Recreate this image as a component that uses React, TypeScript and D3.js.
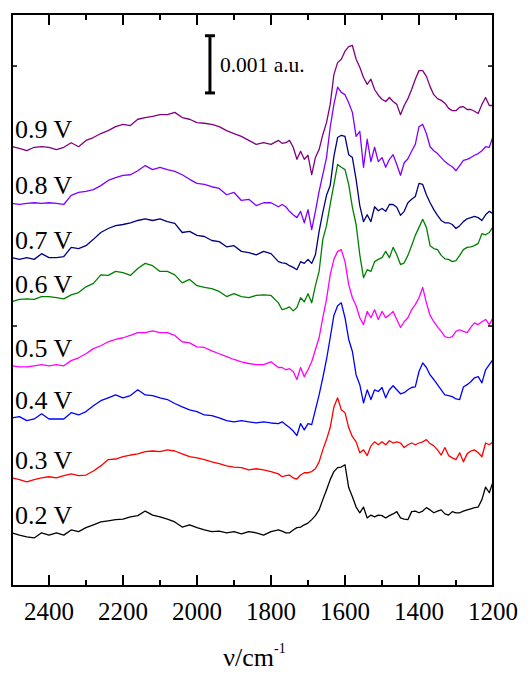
import React from "react";
import * as d3 from "d3";

// wavenumber grid (cm-1): 20 cm-1 steps down to 1780, then 10 cm-1 steps
const wavenumbers = [
  2500, 2480, 2460, 2440, 2420, 2400, 2380, 2360, 2340, 2320, 2300, 2280, 2260, 2240, 2220, 2200,
  2180, 2160, 2140, 2120, 2100, 2080, 2060, 2040, 2020, 2000, 1980, 1960, 1940, 1920, 1900, 1880,
  1860, 1840, 1820, 1800, 1780,
  1770, 1760, 1750, 1740, 1730, 1720, 1710, 1700, 1690, 1680, 1670, 1660, 1650, 1640, 1630, 1620,
  1610, 1600, 1590, 1580, 1570, 1560, 1550, 1540, 1530, 1520, 1510, 1500, 1490, 1480, 1470, 1460,
  1450, 1440, 1430, 1420, 1410, 1400, 1390, 1380, 1370, 1360, 1350, 1340, 1330, 1320, 1310, 1300,
  1290, 1280, 1270, 1260, 1250, 1240, 1230, 1220, 1210, 1200,
];

// absorbance in units of 0.001 a.u. (curves already stacked)
const s02 = [
  0.93, 0.89, 0.86, 0.84, 0.93, 0.89, 0.93, 0.89, 0.98, 0.95, 1.02, 1.07, 1.12, 1.14, 1.16, 1.17,
  1.21, 1.23, 1.31, 1.24, 1.21, 1.17, 1.12, 1.03, 1.07, 1.02, 0.98, 0.95, 0.96, 0.93, 0.95, 0.91,
  0.95, 0.93, 0.89, 0.95, 0.98,
  0.96, 0.93, 0.93, 0.98, 1.02, 1.03, 1.07, 1.10, 1.16, 1.23, 1.33, 1.51, 1.68, 1.86, 2.00, 2.07,
  2.08, 2.12, 1.72, 1.56, 1.38, 1.28, 1.38, 1.19, 1.24, 1.21, 1.24, 1.23, 1.19, 1.23, 1.26, 1.30,
  1.19, 1.17, 1.16, 1.30, 1.31, 1.28, 1.31, 1.37, 1.33, 1.28, 1.31, 1.33, 1.26, 1.24, 1.30, 1.28,
  1.28, 1.31, 1.33, 1.35, 1.37, 1.38, 1.51, 1.73, 1.63, 1.82,
];
const s03 = [
  1.89, 1.86, 1.82, 1.86, 1.89, 1.91, 1.89, 1.93, 1.96, 1.93, 1.94, 2.01, 2.10, 2.21, 2.22, 2.26,
  2.29, 2.31, 2.35, 2.36, 2.35, 2.38, 2.36, 2.31, 2.26, 2.24, 2.21, 2.17, 2.14, 2.10, 2.08, 2.07,
  2.03, 2.05, 2.03, 2.00, 1.96,
  1.91, 1.93, 1.94, 1.89, 1.87, 1.94, 1.98, 1.98, 2.00, 2.05, 2.17, 2.38, 2.56, 2.77, 3.13, 3.29,
  3.08, 3.03, 2.77, 2.61, 2.52, 2.33, 2.38, 2.28, 2.45, 2.52, 2.47, 2.52, 2.47, 2.54, 2.50, 2.52,
  2.50, 2.42, 2.47, 2.50, 2.47, 2.50, 2.52, 2.56, 2.49, 2.45, 2.38, 2.29, 2.42, 2.28, 2.24, 2.21,
  2.33, 2.17, 2.31, 2.36, 2.38, 2.33, 2.26, 2.50, 2.47, 2.52,
];
const s04 = [
  2.94, 2.96, 2.89, 2.92, 3.01, 2.92, 2.92, 2.92, 3.03, 2.99, 3.05, 3.15, 3.24, 3.29, 3.34, 3.29,
  3.33, 3.43, 3.34, 3.33, 3.29, 3.26, 3.19, 3.13, 3.08, 3.05, 2.99, 2.98, 2.94, 2.89, 2.87, 2.89,
  2.87, 2.85, 2.87, 2.85, 2.84,
  2.87, 2.82, 2.77, 2.71, 2.63, 2.84, 2.73, 2.84, 2.82, 3.08, 3.34, 3.64, 3.96, 4.34, 4.73, 4.90,
  4.95, 4.69, 4.31, 4.10, 3.69, 3.52, 3.20, 3.43, 3.26, 3.43, 3.40, 3.47, 3.29, 3.43, 3.50, 3.43,
  3.36, 3.38, 3.43, 3.47, 3.48, 3.75, 3.90, 3.82, 3.69, 3.61, 3.52, 3.43, 3.34, 3.33, 3.31, 3.27,
  3.26, 3.48, 3.52, 3.57, 3.64, 3.66, 3.55, 3.78, 3.87, 3.96,
];
const s05 = [
  3.85, 3.83, 3.83, 3.85, 3.87, 3.85, 3.87, 3.85, 3.94, 3.99, 4.06, 4.15, 4.20, 4.27, 4.31, 4.34,
  4.38, 4.43, 4.43, 4.46, 4.43, 4.43, 4.38, 4.27, 4.25, 4.18, 4.17, 4.11, 4.06, 4.01, 3.96, 3.92,
  3.89, 3.87, 3.87, 3.92, 3.82,
  3.82, 3.78, 3.80, 3.75, 3.61, 3.82, 3.66, 3.78, 3.92, 4.13, 4.34, 4.69, 5.01, 5.44, 5.71, 5.85,
  5.88, 5.67, 5.27, 5.04, 4.90, 4.69, 4.57, 4.80, 4.69, 4.83, 4.66, 4.80, 4.69, 4.74, 4.80, 4.66,
  4.52, 4.62, 4.69, 4.83, 4.92, 5.04, 5.22, 4.95, 4.73, 4.62, 4.53, 4.45, 4.36, 4.34, 4.36, 4.45,
  4.48, 4.45, 4.43, 4.52, 4.60, 4.57, 4.62, 4.66, 4.57, 4.69,
];
const s06 = [
  4.97, 5.01, 5.02, 5.01, 5.06, 5.06, 5.04, 5.02, 5.09, 5.13, 5.23, 5.29, 5.44, 5.43, 5.50, 5.48,
  5.43, 5.55, 5.64, 5.60, 5.50, 5.50, 5.44, 5.30, 5.36, 5.25, 5.22, 5.20, 5.15, 5.06, 5.11, 5.06,
  5.04, 5.08, 5.09, 5.08, 4.95,
  4.83, 4.85, 4.88, 4.81, 4.87, 5.04, 4.97, 5.11, 4.95, 5.25, 5.50, 6.06, 6.30, 6.67, 7.02, 7.37,
  7.32, 7.28, 7.02, 6.62, 6.32, 5.79, 5.39, 5.53, 5.50, 5.67, 5.71, 5.74, 5.85, 5.74, 5.92, 5.79,
  5.62, 5.65, 5.78, 5.95, 6.13, 6.27, 6.41, 6.27, 5.95, 5.90, 5.88, 5.78, 5.72, 5.71, 5.67, 5.69,
  5.78, 5.88, 5.92, 5.93, 5.95, 5.99, 6.16, 6.14, 6.18, 6.28,
];
const s07 = [
  5.74, 5.71, 5.74, 5.71, 5.81, 5.74, 5.74, 5.76, 5.92, 5.90, 5.95, 6.06, 6.18, 6.25, 6.30, 6.32,
  6.35, 6.39, 6.42, 6.39, 6.42, 6.37, 6.34, 6.18, 6.20, 6.13, 6.11, 6.04, 6.02, 5.93, 5.95, 5.85,
  5.83, 5.79, 5.85, 5.81, 5.67,
  5.65, 5.64, 5.60, 5.57, 5.53, 5.67, 5.64, 5.71, 5.64, 5.79, 6.20, 6.53, 6.83, 7.00, 7.51, 7.84,
  7.88, 7.86, 7.54, 7.49, 7.11, 6.65, 6.37, 6.49, 6.37, 6.63, 6.56, 6.60, 6.55, 6.67, 6.67, 6.62,
  6.48, 6.55, 6.70, 6.76, 6.81, 7.04, 7.02, 6.84, 6.70, 6.58, 6.48, 6.39, 6.35, 6.35, 6.32, 6.25,
  6.30, 6.37, 6.42, 6.44, 6.46, 6.44, 6.39, 6.49, 6.55, 6.51,
];
const s08 = [
  6.69, 6.67, 6.69, 6.70, 6.69, 6.70, 6.69, 6.67, 6.83, 6.88, 6.90, 6.93, 7.00, 7.09, 7.14, 7.18,
  7.19, 7.26, 7.35, 7.28, 7.32, 7.28, 7.25, 7.19, 7.11, 7.04, 7.02, 6.98, 6.95, 6.84, 6.88, 6.74,
  6.76, 6.65, 6.70, 6.70, 6.63,
  6.67, 6.63, 6.55, 6.49, 6.44, 6.55, 6.35, 6.58, 6.23, 6.55, 6.90, 7.19, 7.49, 8.02, 8.42, 8.72,
  8.63, 8.59, 8.45, 8.28, 7.86, 7.95, 7.32, 7.81, 7.42, 7.67, 7.42, 7.49, 7.32, 7.46, 7.54, 7.37,
  7.18, 7.40, 7.47, 7.60, 7.72, 8.03, 8.07, 7.91, 7.68, 7.61, 7.56, 7.49, 7.42, 7.37, 7.33, 7.26,
  7.35, 7.44, 7.46, 7.49, 7.53, 7.56, 7.61, 7.68, 7.67, 7.86,
];
const s09 = [
  7.68, 7.65, 7.61, 7.67, 7.68, 7.67, 7.63, 7.67, 7.75, 7.68, 7.79, 7.84, 7.91, 7.96, 8.03, 8.07,
  8.05, 8.16, 8.19, 8.21, 8.24, 8.24, 8.28, 8.19, 8.16, 8.10, 8.09, 8.07, 8.03, 7.96, 7.91, 7.86,
  7.79, 7.72, 7.75, 7.72, 7.79,
  7.74, 7.75, 7.79, 7.67, 7.46, 7.60, 7.46, 7.53, 7.19, 7.49, 7.63, 7.89, 8.10, 8.42, 8.94, 9.15,
  9.21, 9.35, 9.43, 9.45, 9.21, 9.07, 8.89, 8.77, 8.86, 8.68, 8.58, 8.51, 8.47, 8.54, 8.47, 8.42,
  8.24, 8.40, 8.52, 8.68, 8.86, 9.01, 9.01, 8.91, 8.73, 8.59, 8.52, 8.49, 8.44, 8.35, 8.31, 8.31,
  8.37, 8.38, 8.33, 8.33, 8.30, 8.26, 8.42, 8.54, 8.40, 8.40,
];

const potentials = ["0.2 V", "0.3 V", "0.4 V", "0.5 V", "0.6 V", "0.7 V", "0.8 V", "0.9 V"];
const spectra = [s02, s03, s04, s05, s06, s07, s08, s09];
const colors = ["#000000", "#ff0000", "#0000ff", "#ff00ff", "#008000", "#000080", "#8000ff", "#800080"];

const xMajor = [2400, 2200, 2000, 1800, 1600, 1400, 1200];
const xMinor = [2300, 2100, 1900, 1700, 1500, 1300];
const yMajor = [4.545, 9.09];

// scale bar: 0.001 a.u. drawn at 1965 cm-1
const barWn = 1965;
const barFrom = 8.62;
const barSize = 1;

const font = "'Liberation Serif', 'Times New Roman', serif";

export default function App() {
  const width = 528;
  const height = 673;
  const left = 12, right = 493, top = 14, bottom = 586;

  const x = d3.scaleLinear().domain([2500, 1200]).range([left, right]);
  const y = d3.scaleLinear().domain([0, 10]).range([bottom, top]);
  const line = d3.line<number>()
    .x((_, i) => x(wavenumbers[i]))
    .y(v => y(v));

  const bx = x(barWn);
  const b0 = y(barFrom);
  const b1 = y(barFrom + barSize);

  return (
    <svg width={width} height={height} style={{ position: "absolute", left: 0, top: 0 }}>
      <rect x={0} y={0} width={width} height={height} fill="#fff" />

      {spectra.map((s, i) => (
        <path key={potentials[i]} d={line(s) ?? ""} fill="none" stroke={colors[i]} strokeWidth={1.3} strokeLinejoin="round" />
      ))}

      {spectra.map((s, i) => (
        <text key={"l" + i} x={15} y={y(s[0]) - 9} fontFamily={font} fontSize={26} fill="#000">
          {potentials[i]}
        </text>
      ))}

      {/* frame */}
      <rect x={left} y={top} width={right - left} height={bottom - top} fill="none" stroke="#000" strokeWidth={2} />

      {/* x ticks, bottom and top, inward */}
      {xMajor.map(t => (
        <g key={"M" + t}>
          <line x1={x(t)} x2={x(t)} y1={bottom} y2={bottom - 11} stroke="#000" strokeWidth={2} />
          <line x1={x(t)} x2={x(t)} y1={top} y2={top + 11} stroke="#000" strokeWidth={2} />
          <text x={x(t)} y={bottom + 34} textAnchor="middle" fontFamily={font} fontSize={25}>{t}</text>
        </g>
      ))}
      {xMinor.map(t => (
        <g key={"m" + t}>
          <line x1={x(t)} x2={x(t)} y1={bottom} y2={bottom - 6} stroke="#000" strokeWidth={2} />
          <line x1={x(t)} x2={x(t)} y1={top} y2={top + 6} stroke="#000" strokeWidth={2} />
        </g>
      ))}

      {/* y ticks, left and right, inward */}
      {yMajor.map(t => (
        <g key={"y" + t}>
          <line x1={left} x2={left + 5} y1={y(t)} y2={y(t)} stroke="#000" strokeWidth={1.5} />
          <line x1={right} x2={right - 5} y1={y(t)} y2={y(t)} stroke="#000" strokeWidth={1.5} />
        </g>
      ))}

      {/* scale bar */}
      <g stroke="#000" strokeWidth={3}>
        <line x1={bx} x2={bx} y1={b0} y2={b1} />
        <line x1={bx - 5} x2={bx + 5} y1={b0} y2={b0} />
        <line x1={bx - 5} x2={bx + 5} y1={b1} y2={b1} />
      </g>
      <text x={bx + 10} y={(b0 + b1) / 2 + 7.5} fontFamily={font} fontSize={21.5}>0.001 a.u.</text>

      {/* axis title */}
      <text x={(left + right) / 2 + 2} y={666} textAnchor="middle" fontFamily={font} fontSize={26}>
        ν/cm<tspan fontSize={14} dy={-13}>-1</tspan>
      </text>
    </svg>
  );
}
